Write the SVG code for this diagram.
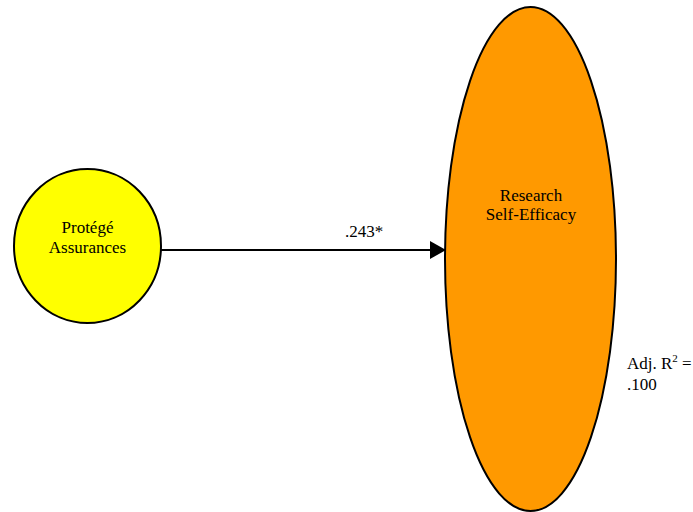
<svg xmlns="http://www.w3.org/2000/svg" width="693" height="512" viewBox="0 0 693 512">
  <style>
    .node { stroke: #000; stroke-width: 2; }
    .lbl { font-family: "Liberation Serif", "Times New Roman", serif; font-size: 17px; fill: #000; }
    .mid { text-anchor: middle; }
    .edge { stroke: #000; stroke-width: 2; fill: none; }
  </style>
  <defs>
    <marker id="arrow" markerUnits="userSpaceOnUse" markerWidth="16" markerHeight="18" refX="16" refY="9" orient="auto">
      <path d="M0,0 L16,9 L0,18 Z" fill="#000"/>
    </marker>
  </defs>
  <rect width="693" height="512" fill="#fff"/>

  <g id="connectors">
    <line class="edge" x1="161" y1="250" x2="446" y2="250" marker-end="url(#arrow)"/>
    <text class="lbl mid" x="364" y="237">.243*</text>
  </g>

  <g id="protege-assurances">
    <ellipse class="node" cx="87.5" cy="246" rx="73.5" ry="77" fill="#ffff00"/>
    <text class="lbl mid" x="87.5" y="233">Protégé</text>
    <text class="lbl mid" x="87.5" y="253">Assurances</text>
  </g>

  <g id="research-self-efficacy">
    <ellipse class="node" cx="530.5" cy="259" rx="85.5" ry="252" fill="#ff9900"/>
    <text class="lbl mid" x="531" y="201">Research</text>
    <text class="lbl mid" x="531" y="220">Self-Efficacy</text>
  </g>

  <g id="r-squared">
    <text class="lbl" x="627" y="369">Adj. R<tspan font-size="11" dy="-7">2</tspan><tspan dy="7"> =</tspan></text>
    <text class="lbl" x="627" y="390">.100</text>
  </g>
</svg>
